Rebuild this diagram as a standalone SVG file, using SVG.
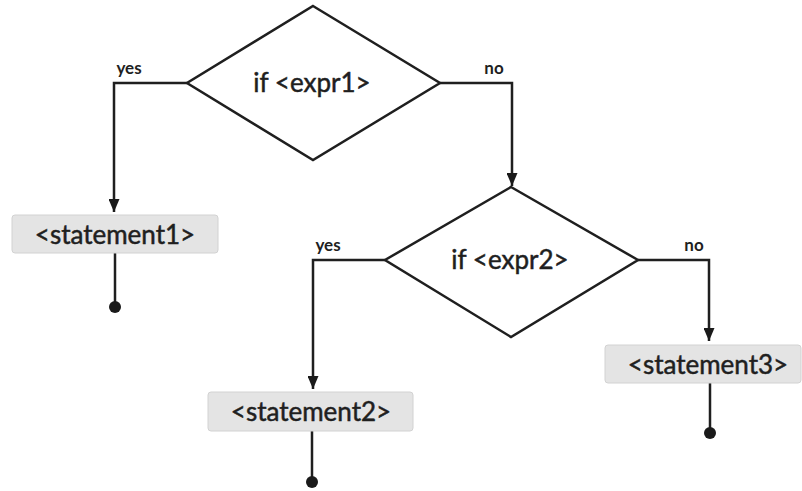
<svg xmlns="http://www.w3.org/2000/svg" width="802" height="491" viewBox="0 0 802 491">
  <defs>
    <marker id="arrow" viewBox="0 0 13 11" refX="13" refY="5.5" markerWidth="13" markerHeight="11" markerUnits="userSpaceOnUse" orient="auto">
      <path d="M0,0 L13,5.5 L0,11 Z" fill="#1a1a1a"/>
    </marker>
  </defs>
  <style>
    .diamond { fill: #ffffff; stroke: #1f1f1f; stroke-width: 2.5; }
    .box { fill: #e4e4e4; stroke: #d2d2d2; stroke-width: 1; }
    .label { font-family: Lato, "Liberation Sans", sans-serif; fill: #1f1f1f; text-anchor: middle; stroke: #1f1f1f; stroke-width: 0.5; }
    .cond { font-size: 26px; }
    .stmt { font-size: 26px; }
    .edge { font-family: Lato, "Liberation Sans", sans-serif; font-size: 17px; font-weight: bold; fill: #1f1f1f; text-anchor: middle; }
    .wire { fill: none; stroke: #1f1f1f; stroke-width: 2.5; }
    .end { fill: #1a1a1a; }
  </style>
  <rect width="802" height="491" fill="#ffffff"/>

  <g id="connectors">
    <!-- expr1 yes branch -->
    <path class="wire" d="M187,83 H114 V212" marker-end="url(#arrow)"/>
    <text class="edge" x="129" y="74">yes</text>
    <!-- expr1 no branch -->
    <path class="wire" d="M440,83 H512 V186" marker-end="url(#arrow)"/>
    <text class="edge" x="494" y="74">no</text>
    <!-- expr2 yes branch -->
    <path class="wire" d="M385,260 H313 V389" marker-end="url(#arrow)"/>
    <text class="edge" x="328" y="251">yes</text>
    <!-- expr2 no branch -->
    <path class="wire" d="M638,260 H709 V341" marker-end="url(#arrow)"/>
    <text class="edge" x="694" y="251">no</text>
    <!-- terminals -->
    <path class="wire" d="M115,253 V305"/>
    <circle class="end" cx="115" cy="307" r="6"/>
    <path class="wire" d="M312,431 V480"/>
    <circle class="end" cx="312" cy="482" r="6"/>
    <path class="wire" d="M710,383 V431"/>
    <circle class="end" cx="710" cy="433" r="6"/>
  </g>

  <g id="cond1">
    <polygon class="diamond" points="313,6 440,83 313,160 187,83"/>
    <text class="label cond" x="312" y="92">if &lt;expr1&gt;</text>
  </g>

  <g id="cond2">
    <polygon class="diamond" points="511,187 638,260 511,337 385,260"/>
    <text class="label cond" x="510" y="269">if &lt;expr2&gt;</text>
  </g>

  <g id="stmt1">
    <rect class="box" x="12" y="215" width="206" height="38" rx="3"/>
    <text class="label stmt" x="115" y="244">&lt;statement1&gt;</text>
  </g>

  <g id="stmt2">
    <rect class="box" x="208" y="392" width="205" height="39" rx="3"/>
    <text class="label stmt" x="311" y="421">&lt;statement2&gt;</text>
  </g>

  <g id="stmt3">
    <rect class="box" x="605" y="345" width="196" height="38" rx="3"/>
    <text class="label stmt" x="708" y="374">&lt;statement3&gt;</text>
  </g>
</svg>
